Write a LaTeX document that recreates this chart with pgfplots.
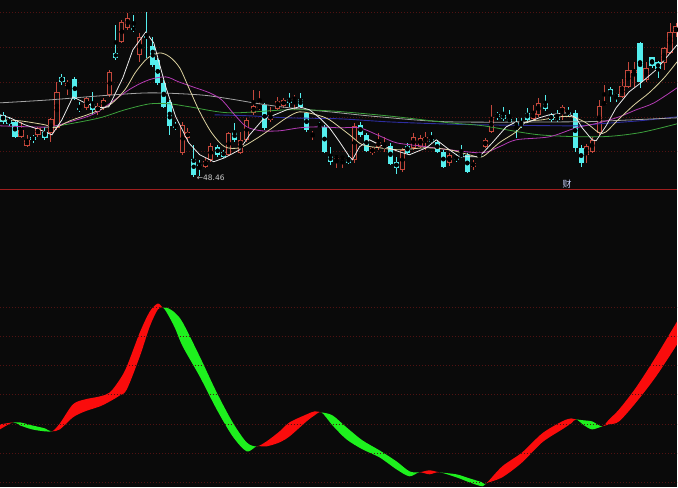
\documentclass[border=0pt]{standalone}
\usepackage{pgfplots}
\usepackage{pgfplotstable}
\usepackage{fontspec}
\setmainfont{DejaVu Sans}
\newfontfamily\cjk{Noto Sans CJK SC}
\pgfplotsset{compat=1.18}
\usepgfplotslibrary{fillbetween}

\definecolor{bgblack}{RGB}{10,10,10}
\definecolor{gridred}{RGB}{80,18,18}
\definecolor{divred}{RGB}{160,30,30}
\definecolor{candred}{RGB}{196,72,60}
\definecolor{candcyan}{RGB}{84,238,238}
\definecolor{mawhite}{RGB}{235,235,235}
\definecolor{mabeige}{RGB}{220,210,160}
\definecolor{mapurple}{RGB}{180,60,180}
\definecolor{magreen}{RGB}{60,160,60}
\definecolor{magray}{RGB}{165,165,165}
\definecolor{manavy}{RGB}{45,45,160}
\definecolor{ribred}{RGB}{250,12,12}
\definecolor{ribgreen}{RGB}{30,240,30}

% candles in screen units (y grows downwards): body top/bottom, wick top/bottom
\pgfplotstableread{
x   bt  bb  wt  wb
21  130 137 122 138
27  140 146 135 147
38  128 135 127 137
51  119 133 118 142
57  92  128 82  130
68  83  86  80  95
87  98  108 97  110
98  106 112 103 115
104 100 108 98  110
110 72  95  70  97
122 22  42  20  43
128 18  28  13  30
140 37  55  33  62
183 125 153 122 155
188 132 138 128 142
206 161 167 158 168
211 146 160 143 162
229 133 155 132 156
241 140 153 132 154
247 120 140 118 142
254 106 113 90  115
260 106 108 91  110
271 115 120 107 122
278 101 109 97  110
284 100 106 98  108
295 98  100 95  110
313 134 136 131 140
337 156 159 155 168
343 157 159 157 168
355 126 160 123 163
373 148 153 147 155
379 142 147 133 150
385 145 148 137 152
403 150 170 148 172
414 137 148 133 150
421 138 147 135 148
426 137 142 132 150
450 155 163 153 166
474 163 167 160 170
486 140 147 138 148
492 117 132 105 133
534 113 119 105 121
539 103 115 98  117
563 107 113 105 120
587 146 155 144 163
593 140 152 137 153
600 106 133 100 135
605 103 104 85  104
623 86  97  79  98
629 70  87  62  88
635 70  73  62  87
647 68  80  62  82
665 48  63  47  70
671 32  53  23  54
677 26  33  23  37
}\uptab

\pgfplotstableread{
x   bt  bb  wt  wb
3   115 122 112 124
9   120 124 117 126
15  122 137 120 138
33  137 140 135 143
45  132 138 127 140
62  77  82  74  85
75  79  99  77  100
80  108 110 102 112
93  103 110 92  115
116 53  58  25  60
134 28  30  15  32
147 36  38  12  58
153 46  65  37  67
158 60  83  58  85
164 83  107 80  108
170 102 126 100 135
176 126 128 122 130
194 159 175 145 177
200 164 166 160 176
218 147 155 145 157
224 152 157 150 158
235 132 140 123 142
265 105 128 103 130
290 99  103 93  107
301 99  107 93  108
307 113 130 112 132
320 125 127 122 128
325 127 152 125 153
331 156 162 147 165
349 159 163 155 164
361 125 135 122 137
367 135 151 133 152
391 146 164 143 165
397 162 168 157 174
408 146 153 143 154
432 139 142 132 143
438 142 152 140 153
444 152 167 150 168
457 158 160 154 162
462 154 157 145 158
468 155 172 153 173
480 155 157 152 158
498 114 117 112 120
504 115 119 107 121
510 119 122 110 123
517 123 126 118 138
522 123 126 118 128
528 113 120 108 122
546 103 109 95  111
552 115 120 113 122
558 117 120 110 122
569 112 114 107 117
576 113 148 110 152
582 148 163 145 167
611 89  95  87  102
617 94  97  93  102
641 43  82  42  88
653 57  66  57  68
659 62  69  61  78
}\downtab

% indicator band: top and bottom edge
\pgfplotstableread{
x   t   b
0   425 430
13  423 423
20  423 426
32  426 430
45  429 432
52  432 432
60  424 430
73  405 418
85  400 412
100 397 407
110 393 402
120 380 396
127 367 390
140 333 357
150 312 327
158 304 310
163 308 308
167 308 313
175 313 328
183 323 347
200 357 377
217 393 410
233 423 437
247 443 452
257 447 447
267 442 447
280 432 443
290 423 437
307 415 422
315 412 416
322 413 413
333 416 426
347 428 440
363 441 450
380 451 458
397 462 470
410 472 477
420 473 473
430 471 475
440 473 473
457 475 478
470 479 483
483 483 487
487 484 484
503 467 478
523 453 463
543 434 443
563 422 430
572 419 424
577 420 420
585 421 426
593 422 430
603 427 427
610 420 425
620 410 422
637 388 403
657 357 377
678 322 345
}\band

\begin{document}
\begin{tikzpicture}
\begin{axis}[
    scale only axis,
    width=678pt, height=488pt,
    xmin=0, xmax=678, ymin=0, ymax=488,
    y dir=reverse,
    axis background/.style={fill=bgblack},
    axis line style={draw=none},
    xtick=\empty, ytick=\empty,
    clip=true,
]
% grid and divider
\pgfplotsinvokeforeach{12,47,82,117,152,308,337,366,395,425,454,483}{
  \draw[gridred, dash pattern=on 1pt off 2pt, line width=0.6pt] (axis cs:0,#1) -- (axis cs:678,#1);
}
\draw[divred, line width=0.8pt] (axis cs:0,190) -- (axis cs:678,190);

% wicks
\addplot[only marks, mark=none, forget plot,
  error bars/.cd, y dir=both, y explicit, error mark=none,
  error bar style={line width=0.9pt, color=candred}]
  table[x=x, y expr={(\thisrow{wt}+\thisrow{wb})/2}, y error expr={(\thisrow{wb}-\thisrow{wt})/2}] {\uptab};
\addplot[only marks, mark=none, forget plot,
  error bars/.cd, y dir=both, y explicit, error mark=none,
  error bar style={line width=0.9pt, color=candcyan}]
  table[x=x, y expr={(\thisrow{wt}+\thisrow{wb})/2}, y error expr={(\thisrow{wb}-\thisrow{wt})/2}] {\downtab};
% bodies
\addplot[only marks, mark=none, forget plot,
  error bars/.cd, y dir=both, y explicit, error mark=none,
  error bar style={line width=5.2pt, color=candcyan}]
  table[x=x, y expr={(\thisrow{bt}+\thisrow{bb})/2}, y error expr={max((\thisrow{bb}-\thisrow{bt})/2,0.6)}] {\downtab};
\addplot[only marks, mark=none, forget plot,
  error bars/.cd, y dir=both, y explicit, error mark=none,
  error bar style={line width=5.2pt, color=candred}]
  table[x=x, y expr={(\thisrow{bt}+\thisrow{bb})/2}, y error expr={max((\thisrow{bb}-\thisrow{bt})/2,0.6)}] {\uptab};
\addplot[only marks, mark=none, forget plot,
  error bars/.cd, y dir=both, y explicit, error mark=none,
  error bar style={line width=3.2pt, color=bgblack}]
  table[x=x, y expr={(\thisrow{bt}+\thisrow{bb})/2}, y error expr={max((\thisrow{bb}-\thisrow{bt})/2-1,0)}] {\uptab};

% moving averages
\addplot[manavy, line width=0.9pt, smooth] coordinates {
(215,115)(250,116)(288,118)(340,119)(388,122)(440,124)(484,125)(575,126)(600,124)(640,121)(678,117)};
\addplot[magray, line width=0.8pt, smooth] coordinates {
(0,103)(50,100)(100,96)(150,93)(200,95)(230,99)(260,104)(290,108)(330,112)(380,117)(450,122)(575,122)(610,121)(678,118)};
\addplot[magreen, line width=0.8pt, smooth] coordinates {
(45,128)(70,124)(100,118)(125,110)(150,104)(170,104)(190,107)(230,113)(288,110)(330,111)(388,116)(450,123)(484,126)(540,135)(600,137)(640,133)(678,124)};
\addplot[mapurple, line width=0.8pt, smooth] coordinates {
(0,126)(30,127)(50,127)(70,122)(96,113)(129,90)(149,80)(166,77)(179,82)(196,88)(210,93)(222,100)(235,115)(247,127)(262,131)(280,131)(300,128)(320,127)(340,128)(360,128)(380,136)(397,143)(420,146)(450,150)(483,153)(500,147)(517,140)(550,137)(577,128)(600,123)(620,117)(637,110)(655,103)(678,88)};
\addplot[mabeige, line width=0.8pt, smooth] coordinates {
(0,120)(20,121)(45,125)(55,128)(70,121)(90,114)(110,105)(125,90)(136,72)(148,58)(160,53)(170,57)(180,68)(190,90)(200,112)(212,133)(225,147)(240,148)(255,140)(270,130)(287,118)(300,112)(317,115)(330,120)(350,135)(363,145)(380,148)(400,150)(427,148)(450,150)(470,155)(483,157)(500,143)(517,132)(527,122)(543,120)(560,117)(573,117)(587,123)(600,133)(607,132)(618,121)(635,105)(650,93)(665,78)(678,62)};
\addplot[mawhite, line width=0.8pt] coordinates {
(0,115)(10,118)(25,125)(40,130)(52,135)(62,120)(73,97)(85,103)(98,108)(109,107)(123,78)(133,50)(146,32)(154,43)(166,87)(176,117)(189,143)(200,155)(214,162)(225,158)(240,150)(250,135)(263,120)(287,110)(300,107)(310,110)(320,118)(330,128)(340,142)(350,157)(353,160)(360,147)(370,140)(380,145)(400,152)(410,155)(427,148)(437,140)(450,150)(460,157)(480,157)(493,143)(507,127)(517,122)(527,123)(540,118)(550,115)(567,113)(577,118)(583,128)(593,140)(597,141)(607,126)(617,108)(630,92)(643,82)(657,70)(667,58)(678,45)};

% indicator band
\addplot[name path=A, draw=none, forget plot, smooth] table[x=x, y=t] {\band};
\addplot[name path=B, draw=none, forget plot, smooth] table[x=x, y=b] {\band};
\addplot[ribred] fill between[of=A and B, soft clip={domain=0:13}];
\addplot[ribgreen] fill between[of=A and B, soft clip={domain=13:52}];
\addplot[ribred] fill between[of=A and B, soft clip={domain=52:163}];
\addplot[ribgreen] fill between[of=A and B, soft clip={domain=163:257}];
\addplot[ribred] fill between[of=A and B, soft clip={domain=257:322}];
\addplot[ribgreen] fill between[of=A and B, soft clip={domain=322:420}];
\addplot[ribred] fill between[of=A and B, soft clip={domain=420:440}];
\addplot[ribgreen] fill between[of=A and B, soft clip={domain=440:487}];
\addplot[ribred] fill between[of=A and B, soft clip={domain=487:577}];
\addplot[ribgreen] fill between[of=A and B, soft clip={domain=577:603}];
\addplot[ribred] fill between[of=A and B, soft clip={domain=603:678}];

% labels
\node[anchor=west, inner sep=0pt, text=white!80!black, font=\fontsize{7.5}{8}\selectfont] at (axis cs:197,178) {←48.46};
\node[inner sep=0pt, text={rgb,255:red,200;green,210;blue,255}, font=\cjk\fontsize{9}{10}\selectfont] at (axis cs:568,184) {财};
\end{axis}
\end{tikzpicture}
\end{document}
